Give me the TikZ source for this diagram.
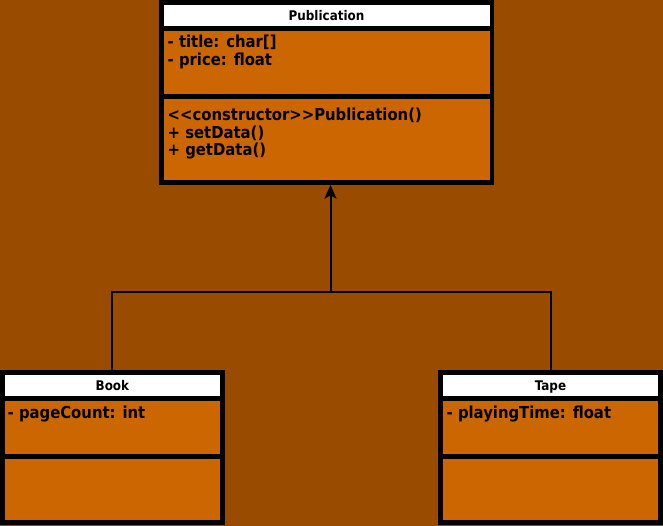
\documentclass[tikz,border=0pt]{standalone}
\usepackage{fontspec}
\setmainfont{DejaVu Sans Condensed}
\usepackage{tikz}
\usetikzlibrary{arrows.meta,positioning}
\definecolor{bgbrown}{RGB}{153,76,0}
\definecolor{classfill}{RGB}{204,102,0}
\tikzset{
  umlpart/.style={draw=black, line width=4.5pt, inner sep=0pt},
  umlhead/.style={umlpart, fill=white, minimum height=26pt,
    font=\bfseries\fontsize{13.3}{15}\selectfont, text height=9.6pt, text depth=0pt},
  umlbody/.style={umlpart, fill=classfill},
  umltext/.style={anchor=base west, inner sep=0pt, align=left,
    font=\bfseries\fontsize{16.5}{17.6}\selectfont},
  umlline/.style={line width=2pt}
}
\begin{document}
\begin{tikzpicture}[x=1pt,y=1pt]
\fill[bgbrown] (0,0) rectangle (663,526);
\useasboundingbox (0,0) rectangle (663,526);

\node[umlhead, minimum width=330.5pt] (pubHead) at (326.5,510.5) {Publication};
\node[umlbody, minimum width=330.5pt, minimum height=68pt, below=-4.5pt of pubHead] (pubAttr) {};
\node[umlbody, minimum width=330.5pt, minimum height=86pt, below=-4.5pt of pubAttr] (pubMeth) {};
\node[umltext] (pubAttrText) at (167.5,460.6) {- title: char[]\\- price: float};
\node[umltext] (pubMethText) at (167.5,370.2) {<{}<constructor>{}>Publication()\\+ setData()\\+ getData()};

\node[umlhead, minimum width=219.8pt] (bookHead) at (112.4,140.5) {Book};
\node[umlbody, minimum width=219.8pt, minimum height=58pt, below=-4.5pt of bookHead] (bookAttr) {};
\node[umlbody, minimum width=219.8pt, minimum height=66pt, below=-4.5pt of bookAttr] (bookMeth) {};
\node[umltext] (bookAttrText) at (7.5,107.7) {- pageCount: int};

\node[umlhead, minimum width=220pt] (tapeHead) at (550.5,140.5) {Tape};
\node[umlbody, minimum width=220pt, minimum height=58pt, below=-4.5pt of tapeHead] (tapeAttr) {};
\node[umlbody, minimum width=220pt, minimum height=66pt, below=-4.5pt of tapeAttr] (tapeMeth) {};
\node[umltext] (tapeAttrText) at (446.5,107.7) {- playingTime: float};

\coordinate (fork) at (330.5,234);
\draw[umlline] (bookHead.north) |- (fork);
\draw[umlline] (tapeHead.north) |- (fork);
\draw[umlline, -{Stealth[length=14pt,width=12pt,inset=3.5pt]}] (fork) -- (fork |- pubMeth.south);
\end{tikzpicture}
\end{document}
